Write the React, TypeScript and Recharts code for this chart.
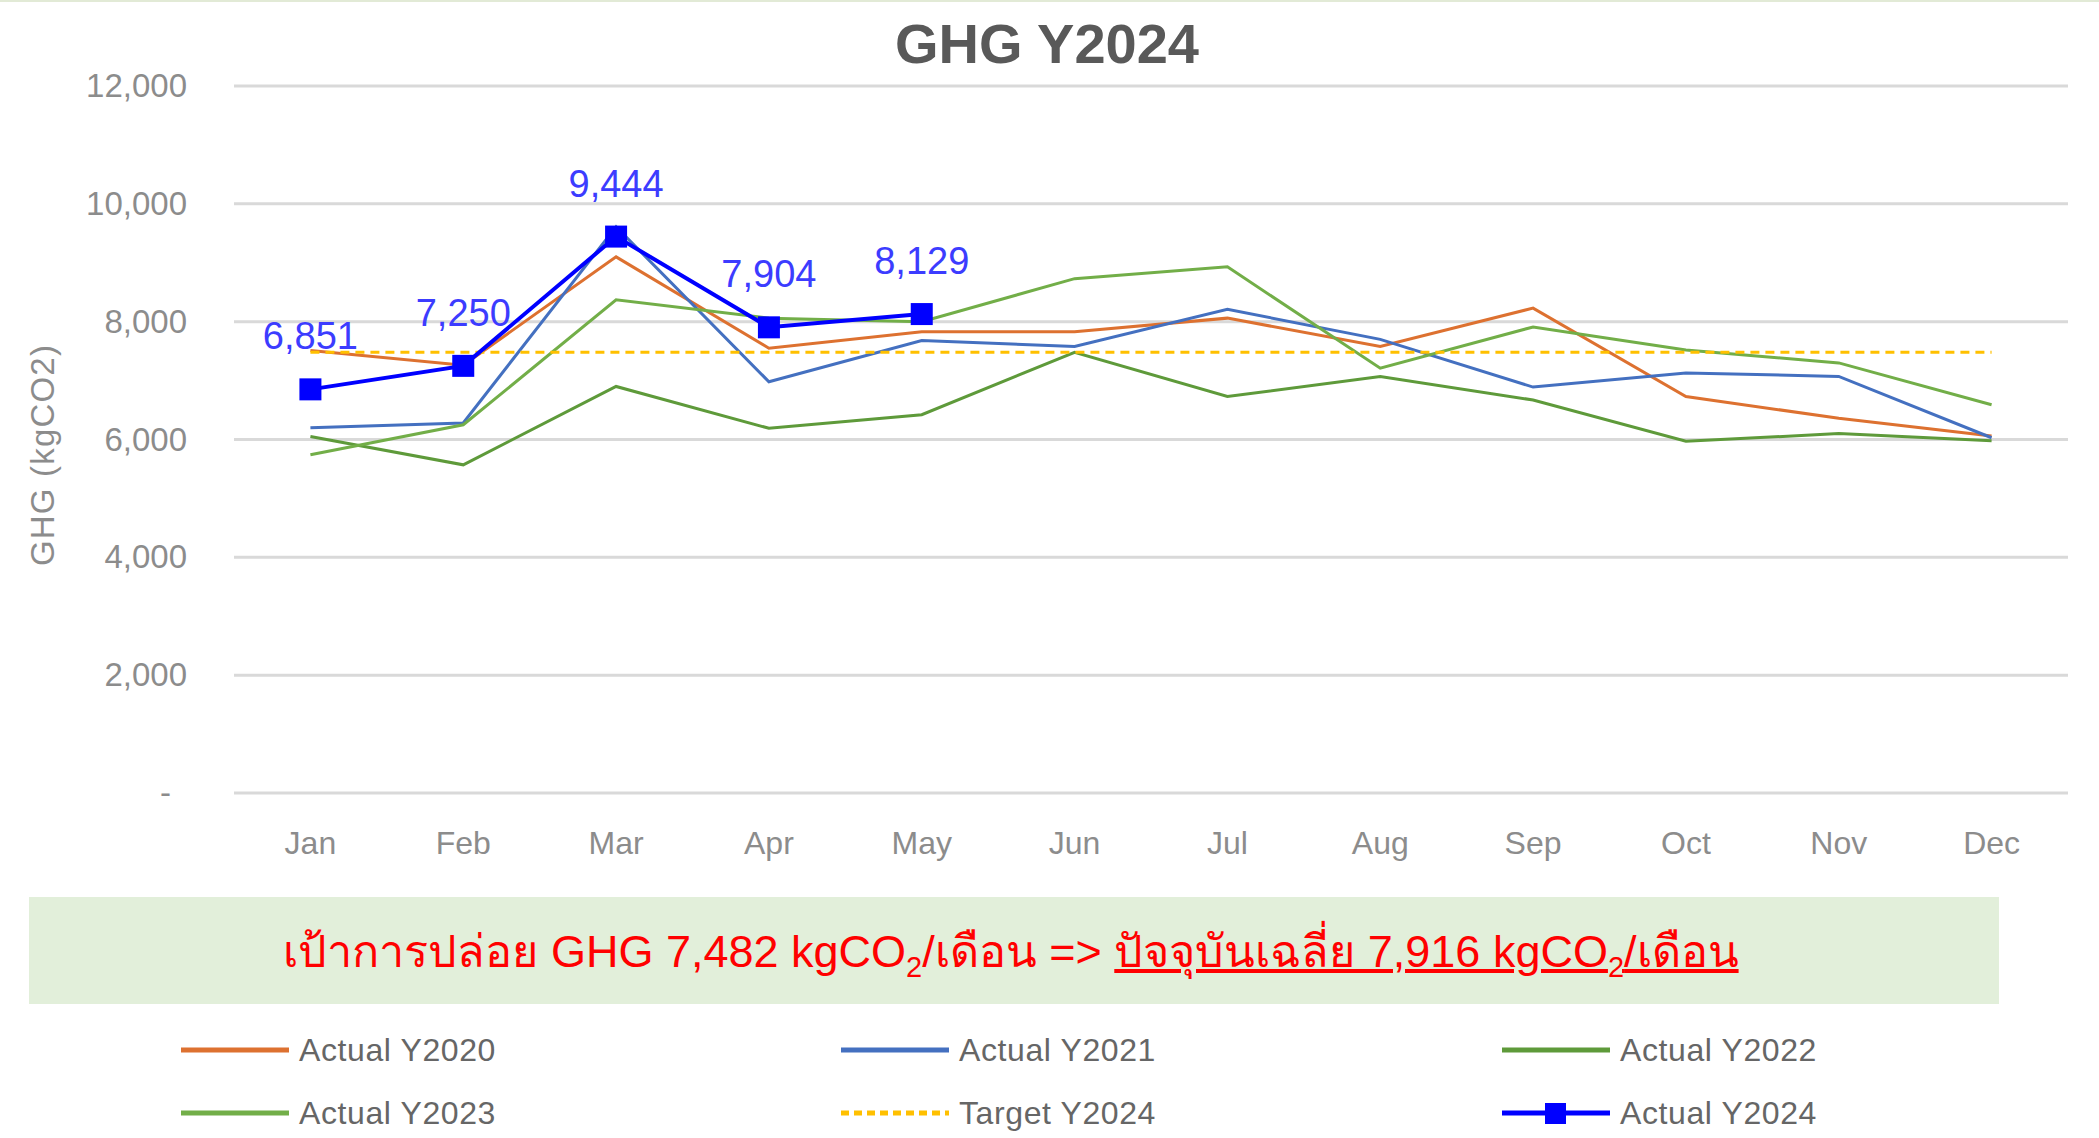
import React from 'react';
import { LineChart, Line, XAxis, YAxis, CartesianGrid, LabelList } from 'recharts';

const FONT = "'Liberation Sans', Arial, sans-serif";

// values
const months = ['Jan', 'Feb', 'Mar', 'Apr', 'May', 'Jun', 'Jul', 'Aug', 'Sep', 'Oct', 'Nov', 'Dec'];
const actual2020 = [7510, 7260, 9100, 7550, 7830, 7830, 8060, 7580, 8230, 6730, 6360, 6060];
const actual2021 = [6200, 6280, 9610, 6980, 7680, 7580, 8210, 7700, 6890, 7130, 7070, 6030];
const actual2022 = [6050, 5570, 6900, 6190, 6420, 7480, 6730, 7070, 6670, 5970, 6100, 5980];
const actual2023 = [5740, 6250, 8370, 8060, 8000, 8730, 8930, 7210, 7910, 7520, 7300, 6590];
const target2024 = [7482, 7482, 7482, 7482, 7482, 7482, 7482, 7482, 7482, 7482, 7482, 7482];
const actual2024 = [6851, 7250, 9444, 7904, 8129, null, null, null, null, null, null, null];
const yTicks = [0, 2000, 4000, 6000, 8000, 10000, 12000];

const series = [
  { key: 'y2020', name: 'Actual Y2020', color: '#dd7130', width: 3, dash: undefined, values: actual2020 },
  { key: 'y2021', name: 'Actual Y2021', color: '#4470c0', width: 3, dash: undefined, values: actual2021 },
  { key: 'y2022', name: 'Actual Y2022', color: '#5e9a3a', width: 3, dash: undefined, values: actual2022 },
  { key: 'y2023', name: 'Actual Y2023', color: '#72ae48', width: 3, dash: undefined, values: actual2023 },
  { key: 't2024', name: 'Target Y2024', color: '#ffc000', width: 3, dash: '9 6', values: target2024 },
  { key: 'y2024', name: 'Actual Y2024', color: '#0000ff', width: 4, dash: undefined, values: actual2024 },
];

const chartData = months.map((m, i) => {
  const row: Record<string, string | number | null> = { month: m };
  series.forEach((s) => {
    row[s.key] = s.values[i];
  });
  return row;
});

const fmt = (v: number) => (v === 0 ? '-' : v.toLocaleString('en-US'));

function YTick(props: any) {
  const { x, y, payload } = props;
  const v = payload.value as number;
  return (
    <text x={v === 0 ? x - 16 : x} y={y} dy={11} textAnchor="end" fill="#8c8c8c" fontSize={33} fontFamily={FONT}>
      {fmt(v)}
    </text>
  );
}

function SquareDot(props: any) {
  const { cx, cy, value, index } = props;
  if (value == null || cy == null) return <g key={`d${index}`} />;
  return <rect key={`d${index}`} x={cx - 11} y={cy - 11} width={22} height={22} fill="#0000ff" />;
}

// legend positions
const legendCols = [181, 841, 1502];
const legendRows = [1048, 1111];

function LegendBox() {
  return (
    <>
      {series.map((s, i) => {
        const left = legendCols[i % 3];
        const top = legendRows[Math.floor(i / 3)];
        return (
          <div
            key={s.key}
            style={{ position: 'absolute', left, top: top - 20, height: 40, display: 'flex', alignItems: 'center' }}
          >
            <svg width={108} height={40}>
              <line x1={0} y1={20} x2={108} y2={20} stroke={s.color} strokeWidth={5} strokeDasharray={s.dash ? '8 5' : undefined} />
              {s.key === 'y2024' && <rect x={43} y={10} width={21} height={21} fill={s.color} />}
            </svg>
            <span style={{ marginLeft: 10, fontSize: 32, letterSpacing: 0.6, color: '#666', fontFamily: FONT }}>{s.name}</span>
          </div>
        );
      })}
    </>
  );
}

export default function App() {
  return (
    <div
      style={{
        position: 'absolute',
        left: 0,
        top: 0,
        width: 2099,
        height: 1138,
        background: '#fff',
        borderTop: '2px solid #e2ead6',
        boxSizing: 'border-box',
        fontFamily: FONT,
      }}
    >
      <div
        style={{
          position: 'absolute',
          left: 0,
          top: 14,
          width: 2094,
          textAlign: 'center',
          fontSize: 56,
          lineHeight: '56px',
          fontWeight: 700,
          color: '#595959',
        }}
      >
        GHG Y2024
      </div>

      <div style={{ position: 'absolute', left: 0, top: -2 }}>
        <LineChart width={2099} height={880} data={chartData} margin={{ top: 86, right: 31, bottom: 27, left: 0 }}>
          <CartesianGrid vertical={false} stroke="#d9d9d9" strokeWidth={3} />
          <XAxis
            dataKey="month"
            scale="band"
            axisLine={false}
            tickLine={false}
            tickSize={0}
            tickMargin={38}
            height={60}
            tick={{ fill: '#8c8c8c', fontSize: 32, fontFamily: FONT }}
          />
          <YAxis
            domain={[0, 12000]}
            ticks={yTicks}
            width={234}
            axisLine={false}
            tickLine={false}
            tickSize={0}
            tickMargin={47}
            tick={YTick}
            label={{
              content: () => (
                <text
                  transform="translate(43,455) rotate(-90)"
                  textAnchor="middle"
                  dy={11}
                  fill="#8c8c8c"
                  fontSize={33}
                  fontFamily={FONT}
                  letterSpacing={1.2}
                >
                  GHG (kgCO2)
                </text>
              ),
            }}
          />
          {series.map((s) =>
            s.key === 'y2024' ? (
              <Line
                key={s.key}
                type="linear"
                dataKey={s.key}
                name={s.name}
                stroke={s.color}
                strokeWidth={s.width}
                dot={SquareDot}
                activeDot={false}
                isAnimationActive={false}
              >
                <LabelList
                  dataKey={s.key}
                  position="top"
                  offset={40}
                  fill="#3c3cff"
                  fontSize={38}
                  fontFamily={FONT}
                  formatter={(v: any) => (v == null ? '' : Number(v).toLocaleString('en-US'))}
                />
              </Line>
            ) : (
              <Line
                key={s.key}
                type="linear"
                dataKey={s.key}
                name={s.name}
                stroke={s.color}
                strokeWidth={s.width}
                strokeDasharray={s.dash}
                dot={false}
                activeDot={false}
                isAnimationActive={false}
              />
            )
          )}
        </LineChart>
      </div>

      <div
        style={{
          position: 'absolute',
          left: 29,
          top: 895,
          width: 1970,
          height: 107,
          background: '#e2efda',
          display: 'flex',
          alignItems: 'center',
          justifyContent: 'center',
          color: '#ff0000',
          fontSize: 45,
          whiteSpace: 'nowrap',
        }}
      >
        <span style={{ marginRight: 6 }}>
          เป้าการปล่อย GHG 7,482 kgCO<sub style={{ fontSize: 29 }}>2</sub>/เดือน =&gt;{' '}
          <span style={{ textDecoration: 'underline', textDecorationThickness: 4 }}>
            ปัจจุบันเฉลี่ย 7,916 kgCO<sub style={{ fontSize: 29 }}>2</sub>/เดือน
          </span>
        </span>
      </div>

      <LegendBox />
    </div>
  );
}
